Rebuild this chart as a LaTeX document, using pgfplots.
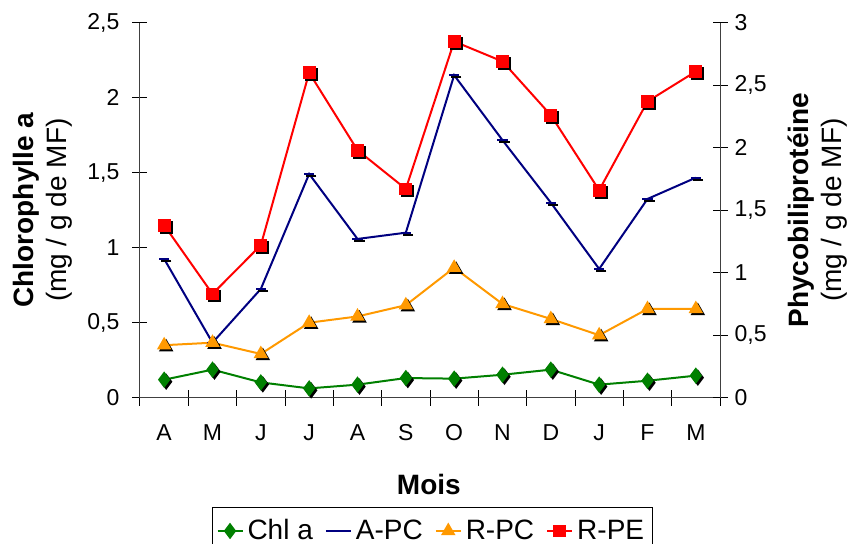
\documentclass[border=0pt]{standalone}
\usepackage{fontspec}
\setmainfont{Liberation Sans}
\usepackage{pgfplots}
\usepackage{pgfplotstable}
\pgfplotsset{compat=1.18}

\definecolor{chlgreen}{RGB}{0,128,0}
\definecolor{apcnavy}{RGB}{0,0,128}
\definecolor{rpcorange}{RGB}{255,153,0}
\definecolor{rpered}{RGB}{255,0,0}

% monthly means, A (avril) to M (mars)
\pgfplotstableread{
x  chl   apc  rpc  rpe
0  0.120 1.11 0.42 1.38
1  0.187 0.44 0.44 0.83
2  0.102 0.87 0.35 1.22
3  0.062 1.79 0.60 2.60
4  0.087 1.27 0.65 1.98
5  0.131 1.32 0.74 1.67
6  0.127 2.58 1.04 2.85
7  0.153 2.06 0.75 2.69
8  0.187 1.56 0.63 2.26
9  0.087 1.03 0.50 1.66
10 0.113 1.59 0.71 2.37
11 0.147 1.76 0.71 2.61
}\data

\pgfplotsset{
  base/.style={
    width=290pt, height=187.5pt, scale only axis,
    xmin=-0.5, xmax=11.5,
    tick align=center, major tick length=7.5pt, minor tick length=8pt,
    axis line style={black!75, line width=0.5pt},
    tick style={black, line width=0.5pt},
    tick label style={font=\fontsize{11.5}{13}\selectfont},
    /pgf/number format/use comma,
    /pgf/number format/assume math mode=true,
    label style={font=\fontsize{14}{16.5}\selectfont, align=center},
    clip=false,
  },
  chl/.style={color=chlgreen, line width=1pt, mark=diamond*, mark size=3.3pt},
  apc/.style={color=apcnavy, line width=1pt, mark=-, mark size=2.6pt},
  rpc/.style={color=rpcorange, line width=1pt, mark=triangle*, mark size=3.2pt},
  rpe/.style={color=rpered, line width=1pt, mark=square*, mark size=2.7pt},
  shadow/.style={only marks, black, mark options={xshift=1pt, yshift=-1pt}},
  legend image code/.code={
    \draw[mark repeat=2, mark phase=2, #1]
      plot coordinates {(0pt,0pt) (6.25pt,0pt) (12.5pt,0pt)};
  },
}

\begin{document}
\begin{tikzpicture}
\path[use as bounding box] (-70pt,-73.15pt) rectangle (355.5pt,198.85pt);

% left axis: chlorophyll a
\begin{axis}[base,
  axis x line*=bottom, axis y line*=left,
  ymin=0, ymax=2.5, ytick={0,0.5,...,2.5},
  xtick={0,...,11},
  xticklabels={A,M,J,J,A,S,O,N,D,J,F,M},
  major x tick style={draw=none},
  minor xtick={-0.5,0.5,...,11.5},
  xticklabel style={yshift=-6pt},
  yticklabel style={xshift=-3pt},
  xlabel={\bfseries Mois},
  xlabel style={at={(axis description cs:0.498,0)}, anchor=center, yshift=-43.5pt},
  ylabel={{\bfseries Chlorophylle a}\\(mg / g de MF)},
  ylabel style={at={(axis description cs:-0.167,0.5)}, anchor=center},
]
\addplot[chl, no markers, forget plot] table[x=x, y=chl] {\data};
\addplot[chl, shadow, forget plot] table[x=x, y=chl] {\data};
\addplot[chl, only marks, forget plot] table[x=x, y=chl] {\data};
\end{axis}

% right axis: phycobiliproteins
\begin{axis}[base,
  axis y line*=right, axis x line=none,
  ymin=0, ymax=3, ytick={0,0.5,...,3},
  ylabel={{\bfseries Phycobiliprotéine}\\(mg / g de MF)},
  ylabel style={at={(axis description cs:1.169,0.5)}, anchor=center},
  legend columns=4,
  legend style={at={(axis description cs:0.504,-0.291)}, anchor=north,
    draw=black, line width=0.5pt, font=\fontsize{14}{16}\selectfont,
    inner xsep=2pt, inner ysep=4pt,
    /tikz/every even column/.append style={column sep=4pt}},
]
\addlegendimage{chl}
\addlegendimage{apc}
\addlegendimage{rpc}
\addlegendimage{rpe}

\addplot[apc, no markers, forget plot] table[x=x, y=apc] {\data};
\addplot[apc, shadow, forget plot] table[x=x, y=apc] {\data};
\addplot[apc, only marks, forget plot] table[x=x, y=apc] {\data};

\addplot[rpc, no markers, forget plot] table[x=x, y=rpc] {\data};
\addplot[rpc, shadow, forget plot] table[x=x, y=rpc] {\data};
\addplot[rpc, only marks, forget plot] table[x=x, y=rpc] {\data};

\addplot[rpe, no markers, forget plot] table[x=x, y=rpe] {\data};
\addplot[rpe, shadow, forget plot] table[x=x, y=rpe] {\data};
\addplot[rpe, only marks, forget plot] table[x=x, y=rpe] {\data};

\legend{Chl a, A-PC, R-PC, R-PE}
\end{axis}
\end{tikzpicture}
\end{document}
